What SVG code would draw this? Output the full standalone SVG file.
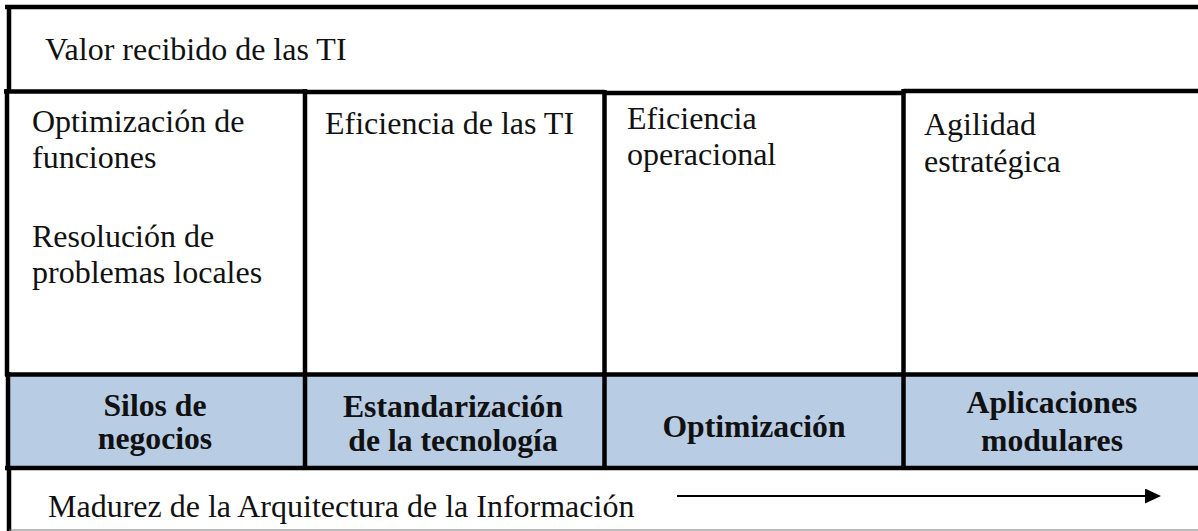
<svg xmlns="http://www.w3.org/2000/svg" width="1198" height="531" viewBox="0 0 1198 531">
<style>
.t{font-family:"Liberation Serif","Times New Roman",serif;font-size:32px;fill:#111}
.b{font-family:"Liberation Serif","Times New Roman",serif;font-size:31.7px;font-weight:bold;fill:#111;text-anchor:middle}
.ln{stroke:#000;stroke-width:4.5;fill:none}
</style>
<defs>
<marker id="ah" viewBox="0 0 16 15" refX="0" refY="7.5" markerWidth="16" markerHeight="15" markerUnits="userSpaceOnUse" orient="auto">
<polygon points="0,0 16,7.5 0,15" fill="#000"/>
</marker>
</defs>
<rect x="0" y="0" width="1198" height="531" fill="#fff"/>
<g id="blue-band">
<rect x="8" y="374.5" width="1190" height="93.5" fill="#B8CCE4"/>
</g>
<g id="grid">
<line class="ln" x1="5" y1="7" x2="1198" y2="7"/>
<line class="ln" x1="9" y1="5" x2="9" y2="93"/>
<line class="ln" x1="4" y1="91.5" x2="305" y2="91.5"/>
<line class="ln" x1="305" y1="92" x2="604.5" y2="92"/>
<line class="ln" x1="604.5" y1="93" x2="903.5" y2="93"/>
<line class="ln" x1="903.5" y1="91" x2="1198" y2="91"/>
<line class="ln" x1="7" y1="89" x2="7" y2="376"/>
<line class="ln" x1="305" y1="89" x2="305" y2="470"/>
<line class="ln" x1="604.5" y1="90" x2="604.5" y2="470"/>
<line class="ln" x1="903.5" y1="89" x2="903.5" y2="470"/>
<line class="ln" x1="5" y1="374.5" x2="1198" y2="374.5"/>
<line class="ln" x1="8" y1="372" x2="8" y2="470"/>
<line class="ln" x1="5" y1="468" x2="1198" y2="468"/>
<line class="ln" x1="9" y1="466" x2="9" y2="531"/>
<line x1="9" y1="530" x2="1198" y2="530" stroke="#777" stroke-width="1"/>
</g>
<g id="header">
<text class="t" x="45" y="60">Valor recibido de las TI</text>
</g>
<g id="cell-1">
<text class="t" x="32" y="132">Optimización de</text>
<text class="t" x="32" y="168">funciones</text>
<text class="t" x="32" y="247">Resolución de</text>
<text class="t" x="32" y="283">problemas locales</text>
</g>
<g id="cell-2">
<text class="t" x="325" y="134">Eficiencia de las TI</text>
</g>
<g id="cell-3">
<text class="t" x="627" y="129">Eficiencia</text>
<text class="t" x="627" y="165">operacional</text>
</g>
<g id="cell-4">
<text class="t" x="924" y="135">Agilidad</text>
<text class="t" x="924" y="172">estratégica</text>
</g>
<g id="stage-1">
<text class="b" x="155" y="416">Silos de</text>
<text class="b" x="155" y="449">negocios</text>
</g>
<g id="stage-2">
<text class="b" x="453" y="417">Estandarización</text>
<text class="b" x="453" y="451">de la tecnología</text>
</g>
<g id="stage-3">
<text class="b" x="754" y="437">Optimización</text>
</g>
<g id="stage-4">
<text class="b" x="1052" y="413">Aplicaciones</text>
<text class="b" x="1052" y="451">modulares</text>
</g>
<g id="footer">
<text class="t" x="48" y="517">Madurez de la Arquitectura de la Información</text>
</g>
<g id="connectors">
<line x1="677" y1="496" x2="1145" y2="496" stroke="#000" stroke-width="2" marker-end="url(#ah)"/>
</g>
</svg>
